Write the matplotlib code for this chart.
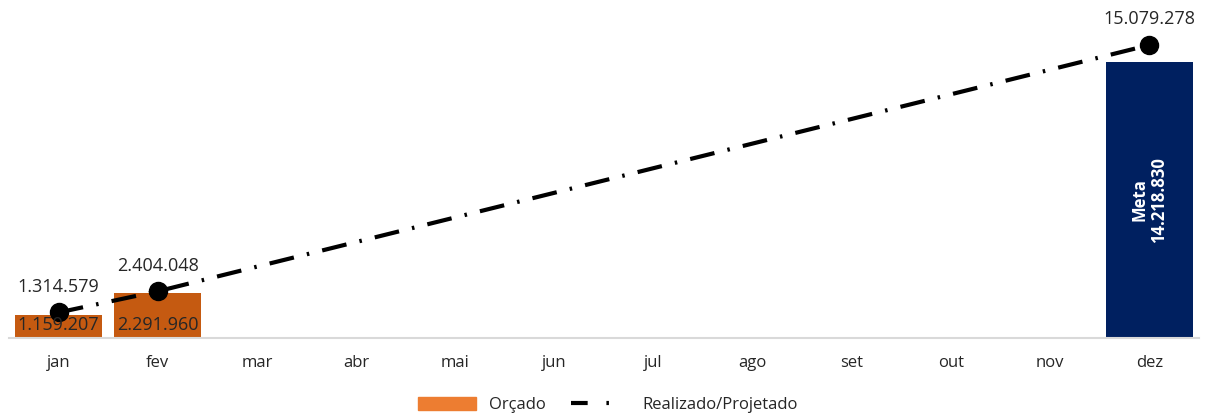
import matplotlib
matplotlib.use("Agg")
import matplotlib.pyplot as plt
import numpy as np
from matplotlib.lines import Line2D
from matplotlib.patches import Patch

plt.rcParams['font.family'] = ['Open Sans', 'DejaVu Sans']

months = ["jan", "fev", "mar", "abr", "mai", "jun", "jul", "ago", "set", "out", "nov", "dez"]
orcado = [1159207, 2291960, np.nan, np.nan, np.nan, np.nan, np.nan, np.nan, np.nan, np.nan, np.nan, np.nan]
meta = [np.nan] * 11 + [14218830]
realizado = [1314579, 2404048, np.nan, np.nan, np.nan, np.nan, np.nan, np.nan, np.nan, np.nan, np.nan, 15079278]

def fmt(v):
    return f"{int(v):,}".replace(",", ".")

fig = plt.figure(figsize=(12.07, 4.18), dpi=100)
ax = fig.add_axes([9/1207, 80/418, (1199-9)/1207, 338/418])

x = np.arange(len(months))
orange = "#C55A11"
navy = "#002060"

ax.bar(x, orcado, width=0.88, color=orange, zorder=2)
ax.bar(x, meta, width=0.88, color=navy, zorder=2)

for i, v in enumerate(orcado):
    if not np.isnan(v):
        ax.annotate(fmt(v), (i, 0), xytext=(0, 3), textcoords="offset points",
                    ha="center", va="bottom", fontsize=13, color="#262626", zorder=5)

for i, v in enumerate(meta):
    if not np.isnan(v):
        ax.text(i, v / 2, "Meta\n" + fmt(v), rotation=90, ha="center", va="center",
                color="white", fontsize=12, fontweight="bold", zorder=5, linespacing=1.1)

ri = [i for i, v in enumerate(realizado) if not np.isnan(v)]
rv = [realizado[i] for i in ri]
ls = (0, (6, 3.2, 0.6, 3.2))
ax.plot(ri, rv, color="black", lw=3, linestyle=ls, marker="o", markersize=13,
        zorder=4, dash_capstyle="butt")
for i, v in zip(ri, rv):
    ax.annotate(fmt(v), (i, v), xytext=(0, 12), textcoords="offset points",
                ha="center", va="bottom", fontsize=13, color="#262626", zorder=5)

ax.set_xlim(-0.5, 11.5)
ax.set_ylim(0, 338 / 19.43 * 1e6)
ax.set_xticks(x)
ax.set_xticklabels(months, fontsize=12, color="#262626")
ax.tick_params(axis="x", length=0, pad=12)
ax.set_yticks([])
for s in ["top", "right", "left"]:
    ax.spines[s].set_visible(False)
ax.spines["bottom"].set_color("#D9D9D9")
ax.spines["bottom"].set_linewidth(1.5)
ax.patch.set_alpha(0)

handles = [Patch(color="#ED7D31"),
           Line2D([0], [0], color="black", lw=3, linestyle=(0, (4, 4.5, 0.6, 12)))]
fig.legend(handles, ["Orçado", "Realizado/Projetado"], loc="center",
           bbox_to_anchor=(608/1207, 1 - 405/418), ncol=2, frameon=False,
           fontsize=12, handlelength=3.5, handleheight=0.8, columnspacing=1.5,
           labelcolor="#262626")

fig.savefig("out.png", dpi=100)
